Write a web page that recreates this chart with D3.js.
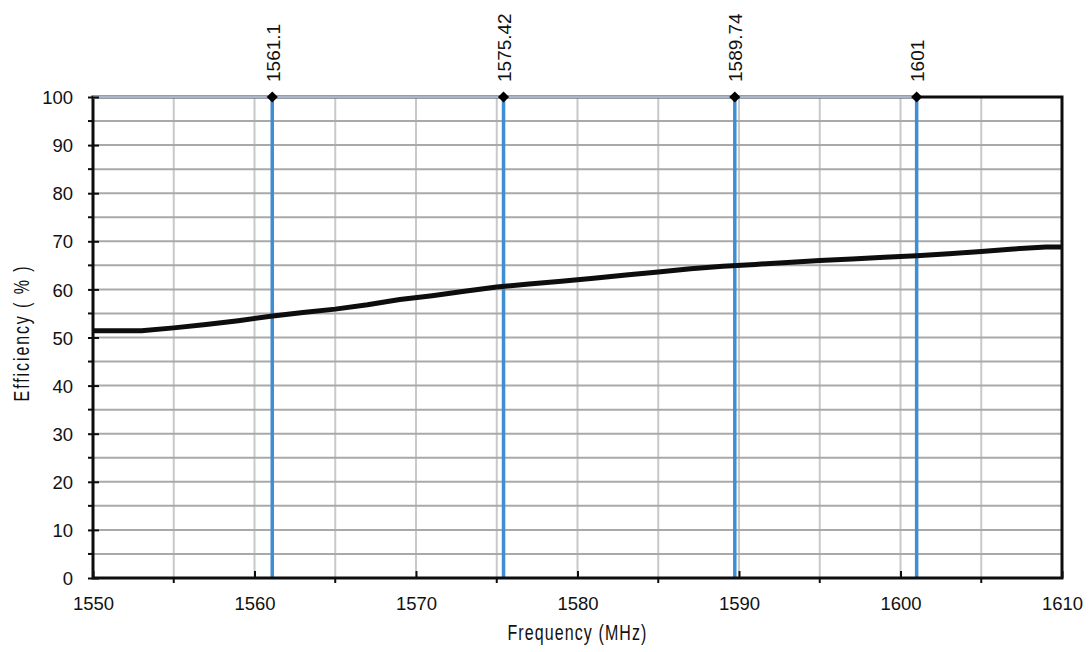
<!DOCTYPE html>
<html lang="en">
<head>
    <meta charset="UTF-8">
    <title>Efficiency</title>
    <script src="https://cdn.jsdelivr.net/npm/d3@7"></script>
    <style>
        body { margin: 0; background: #fff; }
        text { font-family: "Liberation Sans", Arial, sans-serif; fill: #111; }
    </style>
</head>
<body>
<script type="text/javascript">
    // efficiency curve
    var freq = [1550, 1553, 1555, 1557, 1559, 1561, 1563, 1565, 1567, 1569, 1571, 1573, 1575, 1577, 1579,
        1581, 1583, 1585, 1587, 1589, 1591, 1593, 1595, 1597, 1599, 1601, 1603, 1605, 1607, 1609, 1610];
    var eff = [51.4, 51.4, 52.0, 52.7, 53.5, 54.4, 55.2, 55.9, 56.8, 57.9, 58.7, 59.6, 60.5, 61.1, 61.7,
        62.3, 63.0, 63.6, 64.3, 64.8, 65.2, 65.6, 66.0, 66.3, 66.7, 67.0, 67.4, 67.9, 68.4, 68.8, 68.8];
    // band markers
    var bands = [1561.1, 1575.42, 1589.74, 1601];
    var bandLabels = ['1561.1', '1575.42', '1589.74', '1601'];
    var xTicks = [1550, 1560, 1570, 1580, 1590, 1600, 1610];
    var yTicks = [0, 10, 20, 30, 40, 50, 60, 70, 80, 90, 100];

    var width = 1091, height = 652;
    var m = {left: 93, right: 1062, top: 97, bottom: 578};
    var titleStretch = 1.35; // axis titles are drawn tall and narrow

    var svg = d3.select('body').append('svg')
            .attr('width', width)
            .attr('height', height);

    var x = d3.scaleLinear().domain([1550, 1610]).range([m.left, m.right]);
    var y = d3.scaleLinear().domain([0, 100]).range([m.bottom, m.top]);

    // grid
    svg.append('g').selectAll('line')
            .data(d3.range(1555, 1610, 5))
            .enter().append('line')
            .attr('x1', d => x(d)).attr('x2', d => x(d))
            .attr('y1', m.top).attr('y2', m.bottom)
            .attr('stroke', '#c9c9c9').attr('stroke-width', 2);
    svg.append('g').selectAll('line')
            .data(d3.range(5, 100, 5))
            .enter().append('line')
            .attr('x1', m.left).attr('x2', m.right)
            .attr('y1', d => y(d)).attr('y2', d => y(d))
            .attr('stroke', '#a9a9a9').attr('stroke-width', 2);

    // band lines
    svg.append('g').selectAll('line')
            .data(bands)
            .enter().append('line')
            .attr('x1', d => x(d)).attr('x2', d => x(d))
            .attr('y1', y(100)).attr('y2', y(0))
            .attr('stroke', '#3d8ed3').attr('stroke-width', 3.5);

    // border
    svg.append('rect')
            .attr('x', m.left).attr('y', m.top)
            .attr('width', m.right - m.left).attr('height', m.bottom - m.top)
            .attr('fill', 'none').attr('stroke', '#0d0d0d').attr('stroke-width', 3);

    // top connector of the markers
    svg.append('line')
            .attr('x1', x(1550)).attr('x2', x(bands[bands.length - 1]))
            .attr('y1', y(100)).attr('y2', y(100))
            .attr('stroke', '#a8b6c6').attr('stroke-width', 3);

    // axes
    var xAxis = d3.axisBottom(x).tickValues(xTicks).tickSizeInner(-7).tickSizeOuter(0).tickFormat(d3.format('d'));
    var gx = svg.append('g').attr('transform', 'translate(0,' + m.bottom + ')').call(xAxis);
    gx.select('.domain').remove();
    gx.selectAll('line').attr('stroke', '#0d0d0d').attr('stroke-width', 2);
    gx.selectAll('text')
            .attr('font-size', 18.5).attr('fill', '#111')
            .attr('y', 32).attr('dy', 0);
    svg.append('g').selectAll('line')
            .data(d3.range(1555, 1610, 10))
            .enter().append('line')
            .attr('x1', d => x(d)).attr('x2', d => x(d))
            .attr('y1', m.bottom).attr('y2', m.bottom + 5)
            .attr('stroke', '#0d0d0d').attr('stroke-width', 2);

    var yAxis = d3.axisLeft(y).tickValues(yTicks).tickSize(5).tickPadding(15);
    var gy = svg.append('g').attr('transform', 'translate(' + m.left + ',0)').call(yAxis);
    gy.select('.domain').remove();
    gy.selectAll('line').attr('x2', -5).attr('x1', 6).attr('stroke', '#0d0d0d').attr('stroke-width', 2);
    gy.selectAll('text')
            .attr('font-size', 18.5).attr('fill', '#111')
            .attr('dy', 6.6);
    svg.append('g').selectAll('line')
            .data(d3.range(5, 100, 10))
            .enter().append('line')
            .attr('x1', m.left - 5).attr('x2', m.left)
            .attr('y1', d => y(d)).attr('y2', d => y(d))
            .attr('stroke', '#0d0d0d').attr('stroke-width', 2);

    // efficiency line
    var line = d3.line().x(d => x(d[0])).y(d => y(d[1]));
    svg.append('path')
            .datum(freq.map((f, i) => [f, eff[i]]))
            .attr('d', line)
            .attr('fill', 'none')
            .attr('stroke', '#0d0d0d')
            .attr('stroke-width', 5)
            .attr('stroke-linejoin', 'round');

    // diamonds and labels
    svg.append('g').selectAll('path')
            .data(bands)
            .enter().append('path')
            .attr('d', d3.symbol().type(d3.symbolDiamond2).size(80))
            .attr('transform', d => 'translate(' + x(d) + ',' + y(100) + ')')
            .attr('fill', '#000');
    svg.append('g').selectAll('text')
            .data(bands)
            .enter().append('text')
            .attr('transform', d => 'translate(' + (x(d) + 7.5) + ',' + (y(100) - 15) + ') rotate(-90)')
            .attr('font-size', 19)
            .text((d, i) => bandLabels[i]);

    // titles
    svg.append('text')
            .attr('transform', 'translate(' + (m.left + m.right) / 2 + ',640) scale(1,' + titleStretch + ')')
            .attr('text-anchor', 'middle').attr('font-size', 16)
            .attr('letter-spacing', 1.1)
            .text('Frequency (MHz)');
    svg.append('text')
            .attr('transform', 'translate(28.5,333) rotate(-90) scale(1,' + titleStretch + ')')
            .attr('text-anchor', 'middle').attr('font-size', 16)
            .attr('letter-spacing', 1.9)
            .text('Efficiency ( % )');
</script>
</body>
</html>
